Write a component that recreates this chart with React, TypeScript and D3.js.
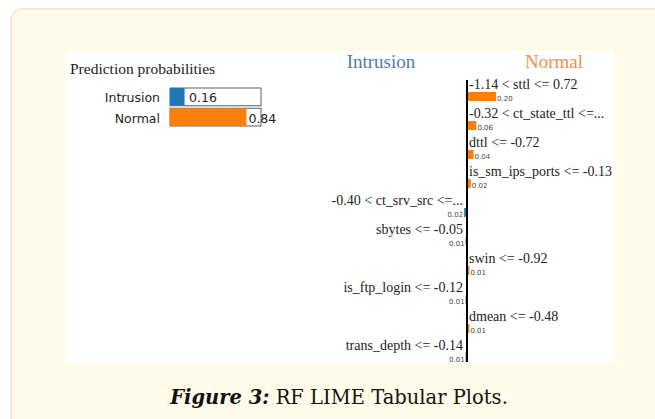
import * as d3 from 'd3';

const WIDTH = 655;
const HEIGHT = 419;

const BLUE = '#1f77b4';
const ORANGE = '#ff7f0e';

const classNames = ['Intrusion', 'Normal'];
const classProbs = [0.16, 0.84];

const features = [
  '-1.14 < sttl <= 0.72',
  '-0.32 < ct_state_ttl <=...',
  'dttl <= -0.72',
  'is_sm_ips_ports <= -0.13',
  '-0.40 < ct_srv_src <=...',
  'sbytes <= -0.05',
  'swin <= -0.92',
  'is_ftp_login <= -0.12',
  'dmean <= -0.48',
  'trans_depth <= -0.14',
];
// which side each feature pushes to (1 = Normal, 0 = Intrusion)
const featureClass = [1, 1, 1, 1, 0, 0, 1, 0, 1, 0];
const featureWeights = [0.20, 0.06, 0.04, 0.02, 0.02, 0.01, 0.01, 0.01, 0.01, 0.01];

const AXIS_X = 467;

export default function App() {
  const probX = d3.scaleLinear().domain([0, 1]).range([170, 261]);
  const probY = d3.scaleBand<string>().domain(classNames).range([88, 126]).paddingInner(0.12);

  const rowY = d3.scalePoint<string>().domain(features).range([89, 350]);
  const w = d3.scaleLinear().domain([0, 0.2]).range([0, 28]);
  const colors = [BLUE, ORANGE];

  return (
    <div style={{ position: 'absolute', left: 0, top: 0 }}>
      <svg width={WIDTH} height={HEIGHT} viewBox={`0 0 ${WIDTH} ${HEIGHT}`}>
        <rect x={0} y={0} width={WIDTH} height={HEIGHT} fill="#ffffff" />
        <rect x={11} y={9} width={700} height={480} rx={12} fill="#fffbe8" stroke="#efe9d8" strokeWidth={2} />
        <rect x={66} y={51} width={548} height={312} fill="#ffffff" />

        {/* prediction probabilities */}
        <text x={70} y={74} fontFamily="Liberation Serif" fontSize={15.5} fill="#222">
          Prediction probabilities
        </text>
        {classNames.map((c, i) => {
          const y = probY(c) || 0;
          const h = probY.bandwidth();
          return (
            <g key={c}>
              <text x={160} y={y + h - 3.5} textAnchor="end" fontFamily="DejaVu Sans" fontSize={12.5} fill="#222">
                {c}
              </text>
              <rect x={probX(0)} y={y} width={probX(1) - probX(0)} height={h} fill="#fff" stroke="#333" strokeWidth={0.8} />
              <rect x={probX(0)} y={y} width={probX(classProbs[i]) - probX(0)} height={h} fill={colors[i]} />
              <text
                x={classProbs[i] > 0.5 ? probX(classProbs[i]) + 2 : probX(0) + 19}
                y={y + h - 3.5}
                fontFamily="DejaVu Sans"
                fontSize={12.5}
                fill="#222"
              >
                {classProbs[i].toFixed(2)}
              </text>
            </g>
          );
        })}

        {/* class headers */}
        <text x={381} y={68} textAnchor="middle" fontFamily="Liberation Serif" fontSize={19} fill="#4a7db5">
          Intrusion
        </text>
        <text x={554} y={68} textAnchor="middle" fontFamily="Liberation Serif" fontSize={19} fill="#f5904a">
          Normal
        </text>

        {/* feature weights */}
        {features.map((f, i) => {
          const y = rowY(f) || 0;
          const right = featureClass[i] === 1;
          const bw = w(featureWeights[i]);
          const barX = right ? AXIS_X + 1 : AXIS_X - bw;
          return (
            <g key={f}>
              <text
                x={right ? AXIS_X + 2 : AXIS_X - 4}
                y={y}
                textAnchor={right ? 'start' : 'end'}
                fontFamily="Liberation Serif"
                fontSize={14}
                fill="#222"
              >
                {f}
              </text>
              <rect x={barX} y={y + 3} width={bw} height={9} fill={colors[featureClass[i]]} />
              <text
                x={right ? AXIS_X + bw + 2 : AXIS_X - bw - 1}
                y={y + 12}
                textAnchor={right ? 'start' : 'end'}
                fontFamily="DejaVu Sans"
                fontSize={7}
                fill="#444"
              >
                {featureWeights[i].toFixed(2)}
              </text>
            </g>
          );
        })}
        <line x1={AXIS_X} x2={AXIS_X} y1={80} y2={362} stroke="#000" strokeWidth={2} />

        {/* caption */}
        <text x={339} y={404} textAnchor="middle" fontFamily="DejaVu Serif" fontSize={19.5} fill="#111">
          <tspan fontWeight="bold" fontStyle="italic">Figure 3:</tspan>
          <tspan> RF LIME Tabular Plots.</tspan>
        </text>
      </svg>
    </div>
  );
}
